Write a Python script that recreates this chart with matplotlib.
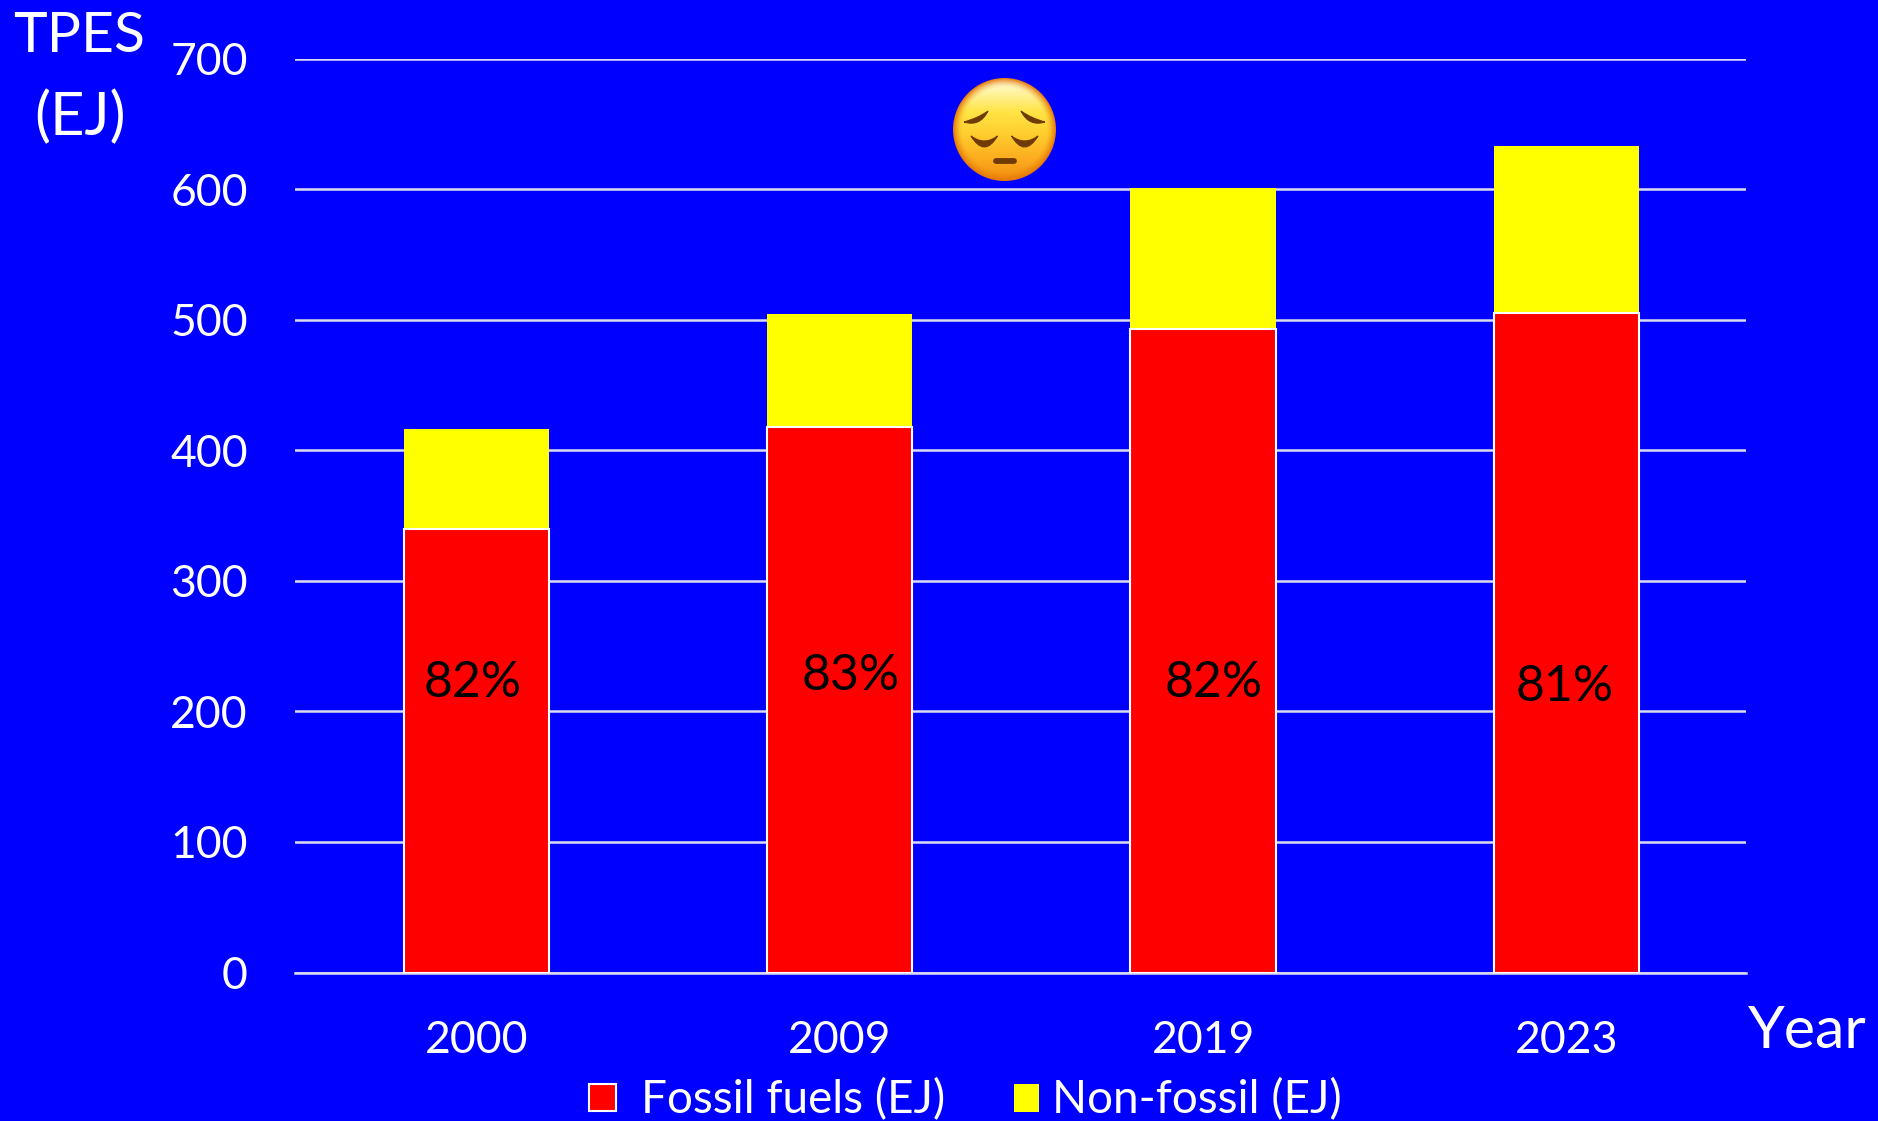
import matplotlib
matplotlib.use('Agg')
import matplotlib.pyplot as plt
from matplotlib.patches import Circle, Rectangle
from matplotlib.path import Path
from matplotlib.patches import PathPatch
import numpy as np

years = ['2000', '2009', '2019', '2023']
fossil = [340, 418, 493, 505]
non_fossil = [76, 86, 108, 128]
shares = ['82%', '83%', '82%', '81%']
share_heights = [222, 227, 222, 219]
share_offsets = [-0.01, 0.03, 0.03, -0.005]
y_ticks = [0, 100, 200, 300, 400, 500, 600, 700]

W, H = 1878, 1121
BLUE = '#0000ff'

plt.rcParams['font.family'] = ['Lato', 'DejaVu Sans']

fig = plt.figure(figsize=(W / 100, H / 100), dpi=100, facecolor=BLUE)
ax = fig.add_axes([295 / W, 1 - 972.5 / H, 1451 / W, 914 / H], facecolor=BLUE)

x = np.arange(len(years))
ax.set_axisbelow(True)
ax.yaxis.grid(True, color='#dcdcf4', lw=1.8)
ax.bar(x, fossil, 0.4, color='#ff0000', edgecolor='white', lw=1.5, label='Fossil fuels (EJ)', zorder=3)
ax.bar(x, non_fossil, 0.4, bottom=fossil, color='#ffff00', edgecolor='none', label='Non-fossil (EJ)', zorder=2)

for i in range(len(years)):
    ax.text(x[i] + share_offsets[i], share_heights[i], shares[i], color='black', fontsize=36,
            ha='center', va='center', zorder=5)

ax.set_xlim(-0.5, 3.495)
ax.set_ylim(0, 700)
ax.set_xticks(x, years)
ax.set_yticks(y_ticks)
ax.tick_params(axis='both', length=0, colors='white', labelsize=32)
ax.tick_params(axis='x', pad=34)
ax.tick_params(axis='y', pad=34)
for s in ['top', 'right', 'left']:
    ax.spines[s].set_visible(False)
ax.spines['bottom'].set_color('#dcdcf4')
ax.spines['bottom'].set_linewidth(1.8)

fig.text(79 / W, 1 - 36 / H, 'TPES', color='white', fontsize=41, ha='center', va='center')
fig.text(80 / W, 1 - 117 / H, '(EJ)', color='white', fontsize=43, ha='center', va='center')
fig.text(1807 / W, 1 - 1032 / H, 'Year', color='white', fontsize=42.5, ha='center', va='center')

# legend, placed by hand
leg = fig.add_axes([0, 0, 1, 1], facecolor='none')
leg.set_xlim(0, W)
leg.set_ylim(H, 0)
leg.axis('off')
leg.add_patch(Rectangle((589, 1084), 27, 27, fc='#ff0000', ec='white', lw=1.5))
leg.add_patch(Rectangle((1014, 1084), 25, 28, fc='#ffff00', ec='none'))
leg.text(641, 1100, 'Fossil fuels (EJ)', color='white', fontsize=33, va='center', ha='left')
leg.text(1052, 1100, 'Non-fossil (EJ)', color='white', fontsize=33, va='center', ha='left')

# pensive face emoji
cx, cy, r = 1004.5, 129.5, 51.5
gy, gx = np.mgrid[-1:1:300j, -1:1:300j]
d = np.hypot(gx, gy)
stops_t = [-1.0, -0.75, -0.35, 0.1, 0.6, 1.0]
stops_c = np.array([[255, 252, 225], [255, 245, 170], [255, 228, 70],
                    [255, 205, 45], [252, 170, 30], [240, 140, 15]]) / 255
rgb = np.dstack([np.interp(gy, stops_t, stops_c[:, k]) for k in range(3)])
edge = np.array([0.90, 0.47, 0.03])
e = np.clip((d - 0.82) / 0.18, 0, 1)[..., None] ** 1.5
rgb = rgb * (1 - e) + edge * e
im = leg.imshow(rgb, extent=(cx - r, cx + r, cy + r, cy - r), zorder=4, interpolation='bilinear')
im.set_clip_path(Circle((cx, cy), r, transform=leg.transData))
leg.set_xlim(0, W)
leg.set_ylim(H, 0)
leg.set_aspect('auto')


def feature(pts):
    # closed bezier shape for eye and brow parts
    codes = [Path.MOVETO, Path.CURVE3, Path.CURVE3, Path.CURVE3, Path.CURVE3]
    leg.add_patch(PathPatch(Path(pts, codes), fc='#6e3a05', ec='#6e3a05', lw=0.8, zorder=5))


for sgn in [-1, 1]:
    # brows
    feature([(cx + sgn * 40.5, 122), (cx + sgn * 24.5, 127), (cx + sgn * 16.5, 111),
             (cx + sgn * 26, 118), (cx + sgn * 40.5, 122)])
    # eyes
    feature([(cx + sgn * 33.5, 136), (cx + sgn * 20, 158), (cx + sgn * 7, 136),
             (cx + sgn * 20, 146), (cx + sgn * 33.5, 136)])
leg.plot([cx - 9, cx + 9], [161, 161], color='#6e3a05', lw=4.2, solid_capstyle='round', zorder=5)

fig.savefig('out.png', dpi=100, facecolor=BLUE)
